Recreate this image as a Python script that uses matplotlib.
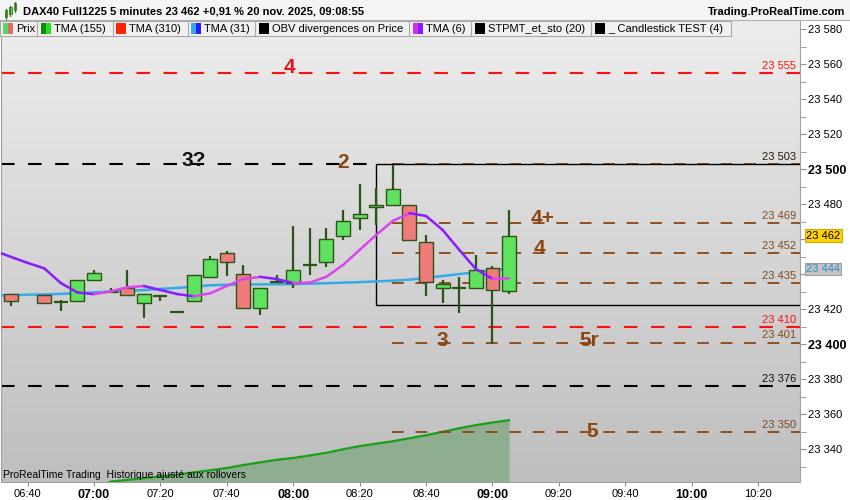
import numpy as np
import matplotlib
matplotlib.use('Agg')
import matplotlib.pyplot as plt
from matplotlib.patches import Rectangle
from matplotlib.colors import LinearSegmentedColormap
from matplotlib.ticker import MultipleLocator

plt.rcParams['font.family'] = ['Liberation Sans', 'DejaVu Sans']

# 5 minute candles (06:40 has no visible candle)
candle_labels = ['06:35', '06:40', '06:45', '06:50', '06:55', '07:00', '07:05', '07:10',
                 '07:15', '07:20', '07:25', '07:30', '07:35', '07:40', '07:45', '07:50',
                 '07:55', '08:00', '08:05', '08:10', '08:15', '08:20', '08:25', '08:30',
                 '08:35', '08:40', '08:45', '08:50', '08:55', '09:00', '09:05']
opens = [23429, None, 23428, 23424, 23425, 23437, 23430, 23432.3, 23423.4, 23427.8, 23418.6,
         23425, 23438.3, 23452, 23440, 23421, 23435.8, 23435.2, 23445.5, 23447.2, 23462,
         23472.3, 23478.3, 23479.4, 23479.4, 23458.3, 23432, 23432, 23432, 23443.4, 23430.3]
highs = [23429, None, 23428, 23425.3, 23437, 23442.5, 23432, 23442.5, 23429, 23428.2, 23418.6,
         23439.4, 23450.5, 23453.3, 23445.3, 23432, 23439.6, 23467.6, 23466.3, 23466.3, 23476.6,
         23491.6, 23489, 23502.5, 23479.4, 23462.3, 23437, 23438.3, 23451, 23445, 23476.6]
lows = [23422, None, 23423.4, 23419.2, 23425, 23437, 23430, 23428, 23415.2, 23424.9, 23418.6,
        23425, 23438.3, 23439.2, 23421, 23417, 23435.2, 23432, 23439.6, 23444, 23459.8,
        23465, 23468.3, 23479.4, 23459.4, 23427.8, 23423.8, 23418, 23431.4, 23400, 23429]
closes = [23425, None, 23423.4, 23424, 23437, 23441, 23430, 23428, 23429, 23427.8, 23418.6,
          23439.4, 23449, 23447.2, 23421, 23432, 23435.8, 23442.3, 23445.5, 23460, 23470.3,
          23474.3, 23479.4, 23488.6, 23459.4, 23435.4, 23434.3, 23432, 23442.3, 23431.2, 23462]

# moving averages, 06:30 .. 09:05
ma_labels = ['06:30'] + candle_labels
tma6 = [23453.5, 23449.9, 23446.5, 23443.4, 23435.0, 23429.6, 23428.6, 23430.2, 23432.5,
        23433.3, 23431.0, 23428.7, 23427.4, 23429.1, 23433.3, 23437.3, 23438.5, 23437.3,
        23435.0, 23435.2, 23438.6, 23445.3, 23453.9, 23462.5, 23470.5, 23474.9, 23473.3,
        23465.3, 23453.9, 23443.0, 23437.3, 23437.7]
tma31 = [23427.9, 23428.1, 23428.3, 23428.5, 23428.8, 23429.1, 23429.6, 23430.1, 23430.5,
         23431.0, 23431.6, 23432.2, 23432.9, 23433.7, 23434.0, 23434.1, 23434.2, 23434.3,
         23434.4, 23434.6, 23434.9, 23435.2, 23435.5, 23435.9, 23436.3, 23436.9, 23437.9,
         23439.0, 23440.1, 23441.2, 23442.2, 23443.5]
tma155 = [23311, 23312, 23313, 23314, 23315, 23316, 23317.5, 23321.5, 23322.5, 23323.5,
          23324.5, 23325.5, 23326.8, 23328, 23329.3, 23331, 23332.5, 23334, 23335, 23336.5,
          23338, 23340, 23341.8, 23343.2, 23344.6, 23346.3, 23348, 23350, 23352, 23353.8,
          23355.3, 23356.6]

# support / resistance levels
red_levels = [23555, 23410]
black_levels = [23376]
brown_levels = [23503, 23469, 23452, 23435, 23401, 23350]
box_top, box_bottom = 23503, 23422.3

# big annotations: (text, time, price, colour)
notes = [('4', '07:59', 23558, '#e8161b'), ('3?', '07:30', 23505, '#111111'),
         ('2', '08:15', 23504, '#8b4513'), ('4+', '09:15', 23472, '#8b4513'),
         ('4', '09:14', 23454.5, '#8b4513'), ('3', '08:45', 23402, '#8b4513'),
         ('5r', '09:29', 23402, '#8b4513'), ('5', '09:30', 23350, '#8b4513')]

x_ticks = ['06:40', '07:00', '07:20', '07:40', '08:00', '08:20', '08:40', '09:00',
           '09:20', '09:40', '10:00', '10:20']


def to_min(s):
    h, m = s.split(':')
    return (int(h) - 6) * 60 + int(m)


def fmt(v):
    return f'{v:,.0f}'.replace(',', ' ')


BROWN = '#8b4513'
XMIN, XMAX = 32, 272.6
YMIN, YMAX = 23321.3, 23584.7

fig = plt.figure(figsize=(8.5, 5), dpi=100)
fig.patch.set_facecolor('white')
ax = fig.add_axes([1 / 850, 18 / 500, 799 / 850, 461 / 500])

bg = LinearSegmentedColormap.from_list('bg', ['#ededed', '#bebebe'])
ax.imshow(np.linspace(0, 1, 256).reshape(-1, 1), cmap=bg, aspect='auto',
          extent=[XMIN, XMAX, YMIN, YMAX], zorder=0)

# green TMA with filled area
xm = [to_min(s) for s in ma_labels]
ax.fill_between(xm, YMIN - 10, tma155, color='#8fae8f', zorder=1, lw=0)
ax.plot(xm, tma155, color='#18a018', lw=1.6, zorder=2)

# levels
dash = (0, (6.5, 6.5))
for lv in red_levels:
    ax.axhline(lv, color='#ff1010', lw=1.5, ls=dash, zorder=2)
for lv in black_levels:
    ax.axhline(lv, color='black', lw=1.5, ls=dash, zorder=2)
ax.hlines(box_top, XMIN, to_min('08:25'), color='black', lw=1.5, ls=dash, zorder=2)
for lv in brown_levels:
    ax.hlines(lv, to_min('08:30') - 0.2, XMAX, color=BROWN, lw=1.3, ls=dash, zorder=2)
ax.add_patch(Rectangle((to_min('08:25'), box_bottom), 200, box_top - box_bottom,
                       fill=False, ec='black', lw=1, zorder=3))

label_cols = {23555: '#ff1010', 23410: '#ff1010', 23376: '#111111', 23503: '#2a1a0a'}
for lv in red_levels + black_levels + brown_levels:
    ax.annotate(fmt(lv), xy=(0.995, lv), xycoords=ax.get_yaxis_transform(),
                xytext=(0, 1.5), textcoords='offset points', ha='right', va='bottom',
                fontsize=8, color=label_cols.get(lv, '#7a4a22'), zorder=4)

# blue TMA
ax.plot(xm, tma31, color='#35aaea', lw=1.8, zorder=5)

# candles
cw = 4.2
for lab, o, h, l, c in zip(candle_labels, opens, highs, lows, closes):
    if o is None:
        continue
    t = to_min(lab)
    ax.vlines(t, l, h, color='#2b5416', lw=1.6, zorder=6)
    if abs(c - o) < 0.5:
        ax.hlines(o, t - cw / 2, t + cw / 2, color='#2b5416', lw=1.6, zorder=7)
    else:
        fc = '#5fe25f' if c > o else '#ef7b7b'
        ax.bar(t, abs(c - o), bottom=min(o, c), width=cw, color=fc,
               edgecolor='#2b5416', lw=1, zorder=7)

# TMA(6) coloured by slope
for i in range(len(xm) - 1):
    col = '#dd44ee' if tma6[i + 1] >= tma6[i] else '#8a1aff'
    ax.plot(xm[i:i + 2], tma6[i:i + 2], color=col, lw=1.8, zorder=8,
            solid_capstyle='round')

for txt, t, p, col in notes:
    ax.text(to_min(t), p, txt, color=col, fontsize=15, fontweight='bold',
            ha='center', va='center', zorder=9)

ax.text(0.003, 0.004, 'ProRealTime Trading  Historique ajusté aux rollovers',
        transform=ax.transAxes, fontsize=7.5, va='bottom', ha='left', zorder=9)

ax.set_xlim(XMIN, XMAX)
ax.set_ylim(YMIN, YMAX)

# axes styling
for side in ['top']:
    ax.spines[side].set_visible(False)
for side in ['left', 'right', 'bottom']:
    ax.spines[side].set_color('#a0a0a0')

ax.yaxis.tick_right()
yt = list(range(23340, 23581, 20))
ax.set_yticks(yt)
ax.set_yticklabels(['' if v in (23440, 23460) else fmt(v) for v in yt])
ax.yaxis.set_minor_locator(MultipleLocator(10))
ax.tick_params(axis='y', which='both', direction='out', length=4, color='#909090',
               pad=2, labelsize=8)
for v, lab in zip(yt, ax.get_yticklabels()):
    if v % 100 == 0:
        lab.set_fontweight('bold')
        lab.set_fontsize(9)

ax.set_xticks([to_min(s) for s in x_ticks])
ax.set_xticklabels(x_ticks)
ax.tick_params(axis='x', direction='out', length=3, color='#909090', pad=2, labelsize=8)
for s, lab in zip(x_ticks, ax.get_xticklabels()):
    if s.endswith(':00'):
        lab.set_fontweight('bold')
        lab.set_fontsize(9)

# price boxes on the right scale
ax.text(1.0075, 23462, '23 462', transform=ax.get_yaxis_transform(), fontsize=8,
        ha='left', va='center', clip_on=False, zorder=10,
        bbox=dict(boxstyle='square,pad=0.12', fc='#ffd200', ec='#d0a800', lw=0.8))
ax.text(1.0075, 23443, '23 444', transform=ax.get_yaxis_transform(), fontsize=8,
        color='#2e8fd0', ha='left', va='center', clip_on=False, zorder=10,
        bbox=dict(boxstyle='square,pad=0.12', fc='#c4c4c4', ec='#a0a0a0', lw=0.8))

# header and legend bar (pixel coordinates)
ov = fig.add_axes([0, 0, 1, 1])
ov.set_xlim(0, 850)
ov.set_ylim(500, 0)
ov.axis('off')
ov.patch.set_alpha(0)
ov.add_patch(Rectangle((0, 0), 850, 20, fc='#f4f4f4', ec='none'))
ov.plot([0, 850], [20, 20], color='#b0b0b0', lw=0.8)
ov.add_patch(Rectangle((0, 20.5), 731, 15.5, fc='#f0f0f0', ec='#a8a8a8', lw=0.8))
for x in [37.3, 112.7, 187.7, 255, 409.3, 470.7, 590.7]:
    ov.plot([x, x], [20.5, 36], color='#a8a8a8', lw=0.8)

# small candle icon
for x, y0, y1 in [(6, 10, 17), (10.5, 7, 14), (15, 3, 10)]:
    ov.plot([x, x], [y0 - 1.5, y1 + 1.5], color='#3a7a20', lw=0.8)
    ov.add_patch(Rectangle((x - 1.3, y0), 2.6, y1 - y0, fc='#5fe25f', ec='#3a7a20', lw=0.6))

ov.text(23, 12, 'DAX40 Full1225 5 minutes 23 462 +0,91 % 20 nov. 2025, 09:08:55',
        fontsize=8, fontweight='bold', va='center', ha='left')
ov.text(845, 12, 'Trading.ProRealTime.com', fontsize=8, fontweight='bold',
        va='center', ha='right')

legend_items = [(2.7, 'Prix', '#5cd65c', '#e06a6a'),
                (40.7, 'TMA (155)', '#0b8a0b', '#22e022'),
                (115.7, 'TMA (310)', '#ff2200', '#ff2200'),
                (191, 'TMA (31)', '#33aaee', '#2020ff'),
                (259.3, 'OBV divergences on Price', '#000000', '#000000'),
                (413, 'TMA (6)', '#cc33ee', '#8a1aff'),
                (475, 'STPMT_et_sto (20)', '#000000', '#000000'),
                (595, '_ Candlestick TEST (4)', '#000000', '#000000')]
for x, name, c1, c2 in legend_items:
    ov.add_patch(Rectangle((x, 23), 5, 10.5, fc=c1, ec='none'))
    ov.add_patch(Rectangle((x + 5, 23), 5, 10.5, fc=c2, ec='none'))
    ov.text(x + 13, 28.5, name, fontsize=8, va='center', ha='left')

fig.savefig('out.png', dpi=100)
